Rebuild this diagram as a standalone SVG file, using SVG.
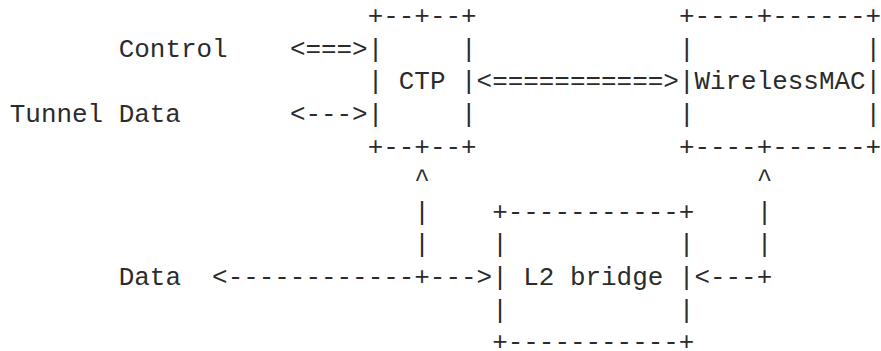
<svg xmlns="http://www.w3.org/2000/svg" width="881" height="351" viewBox="0 0 881 351">
<style>
text { font-family: "Liberation Mono", "DejaVu Sans Mono", monospace; font-size: 25.93px; fill: #2b2b2b; white-space: pre; }
</style>
<rect width="881" height="351" fill="#ffffff"/>
<g id="ctp">
<text x="367.68" y="24.2" xml:space="preserve">+--+--+</text>
<text x="367.68" y="56.8" xml:space="preserve">|     |</text>
<text x="367.68" y="89.4" xml:space="preserve">| CTP |</text>
<text x="367.68" y="122" xml:space="preserve">|     |</text>
<text x="367.68" y="154.6" xml:space="preserve">+--+--+</text>
</g>
<g id="wirelessmac">
<text x="678.88" y="24.2" xml:space="preserve">+----+------+</text>
<text x="678.88" y="56.8" xml:space="preserve">|           |</text>
<text x="678.88" y="89.4" xml:space="preserve">|WirelessMAC|</text>
<text x="678.88" y="122" xml:space="preserve">|           |</text>
<text x="678.88" y="154.6" xml:space="preserve">+----+------+</text>
</g>
<g id="l2bridge">
<text x="492.16" y="219.8" xml:space="preserve">+-----------+</text>
<text x="492.16" y="252.4" xml:space="preserve">|           |</text>
<text x="492.16" y="285" xml:space="preserve">| L2 bridge |</text>
<text x="492.16" y="317.6" xml:space="preserve">|           |</text>
<text x="492.16" y="350.2" xml:space="preserve">+-----------+</text>
</g>
<g id="label-control"><text x="118.72" y="56.8">Control</text></g>
<g id="label-tunnel-data"><text x="9.8" y="122" xml:space="preserve">Tunnel Data</text></g>
<g id="label-data"><text x="118.72" y="285">Data</text></g>
<g id="connectors">
<text x="289.88" y="56.8">&lt;===&gt;</text>
<text x="289.88" y="122">&lt;---&gt;</text>
<text x="476.6" y="89.4">&lt;===========&gt;</text>
<text x="414.36" y="187.2">^</text>
<text x="756.68" y="187.2">^</text>
<text x="414.36" y="219.8">|</text>
<text x="756.68" y="219.8">|</text>
<text x="414.36" y="252.4">|</text>
<text x="756.68" y="252.4">|</text>
<text x="212.08" y="285">&lt;------------+---&gt;</text>
<text x="694.44" y="285">&lt;---+</text>
</g>
</svg>
